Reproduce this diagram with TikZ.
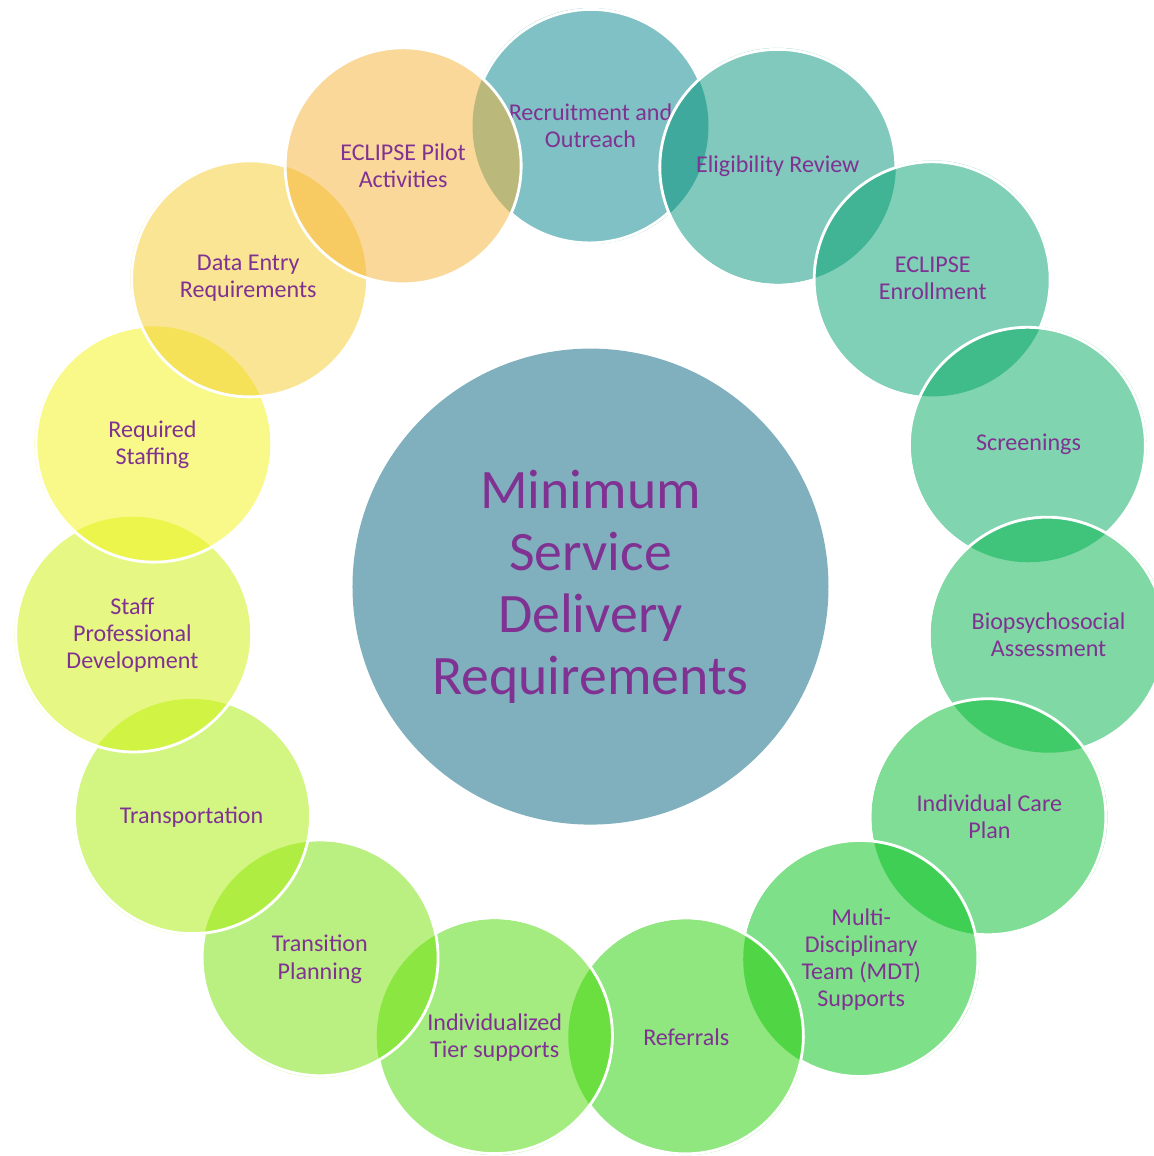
\documentclass[tikz,border=0pt]{standalone}
\usepackage{fontspec}
\setmainfont{Carlito}
\usepackage{tikz}

\definecolor{txt}{RGB}{128,50,146}
\definecolor{hub}{RGB}{128,176,190}
\definecolor{c1}{RGB}{0,131,137}
\definecolor{c2}{RGB}{1,147,121}
\definecolor{c3}{RGB}{1,159,111}
\definecolor{c4}{RGB}{1,169,95}
\definecolor{c5}{RGB}{1,179,73}
\definecolor{c6}{RGB}{1,187,45}
\definecolor{c7}{RGB}{0,193,21}
\definecolor{c8}{RGB}{33,205,0}
\definecolor{c9}{RGB}{73,217,0}
\definecolor{c10}{RGB}{117,225,3}
\definecolor{c11}{RGB}{167,235,5}
\definecolor{c12}{RGB}{205,241,7}
\definecolor{c13}{RGB}{243,243,21}
\definecolor{c14}{RGB}{243,203,41}
\definecolor{c15}{RGB}{245,177,51}

\begin{document}
\begin{tikzpicture}
      \tikzstyle{every node}=[shape=circle,minimum size=4.72cm,inner sep=0pt,outer sep=0pt,align=center,text=txt,font=\fontsize{13.7}{15.4}\selectfont,fill opacity=0.5,text opacity=1]
      \tikzstyle{rim}=[draw=white,line width=1.6pt]

      \useasboundingbox (-11.81,-11.388) rectangle (11.25,11.732);

      \node[fill=hub,fill opacity=1,minimum size=9.52cm,font=\fontsize{31.7}{35.3}\selectfont] (hub) at (0,0) {Minimum\\Service\\Delivery\\Requirements};

      \node[fill=c1] (n1) at (90:9.212) {Recruitment and\\Outreach};
      \draw[rim] (n1.23.75) arc[start angle=23.75,end angle=156.25,radius=2.36cm];
      \draw[rim] (n1.227.75) arc[start angle=227.75,end angle=312.25,radius=2.36cm];

      \node[fill=c2] (n2) at (66:9.212) {Eligibility Review};
      \draw[rim] (n2.359.75) arc[start angle=359.75,delta angle=288.5,radius=2.36cm];

      \node[fill=c3] (n3) at (42:9.212) {ECLIPSE\\Enrollment};
      \draw[rim] (n3.335.75) arc[start angle=335.75,delta angle=288.5,radius=2.36cm];

      \node[fill=c4] (n4) at (18:9.212) {Screenings};
      \draw[rim] (n4.311.75) arc[start angle=311.75,delta angle=288.5,radius=2.36cm];

      \node[fill=c5] (n5) at (-6:9.212) {Biopsychosocial\\Assessment};
      \draw[rim] (n5.287.75) arc[start angle=287.75,delta angle=288.5,radius=2.36cm];

      \node[fill=c6] (n6) at (-30:9.212) {Individual Care\\Plan};
      \draw[rim] (n6.263.75) arc[start angle=263.75,delta angle=288.5,radius=2.36cm];

      \node[fill=c7] (n7) at (-54:9.212) {Multi-\\Disciplinary\\Team (MDT)\\Supports};
      \draw[rim] (n7.239.75) arc[start angle=239.75,delta angle=288.5,radius=2.36cm];

      \node[fill=c8] (n8) at (-78:9.212) {Referrals};
      \draw[rim] (n8.215.75) arc[start angle=215.75,delta angle=288.5,radius=2.36cm];

      \node[fill=c9] (n9) at (-102:9.212) {Individualized\\Tier supports};
      \draw[rim] (n9.191.75) arc[start angle=191.75,delta angle=288.5,radius=2.36cm];

      \node[fill=c10] (n10) at (-126:9.212) {Transition\\Planning};
      \draw[rim] (n10.167.75) arc[start angle=167.75,delta angle=288.5,radius=2.36cm];

      \node[fill=c11] (n11) at (-150:9.212) {Transportation};
      \draw[rim] (n11.143.75) arc[start angle=143.75,delta angle=288.5,radius=2.36cm];

      \node[fill=c12] (n12) at (-174:9.212) {Staff\\Professional\\Development};
      \draw[rim] (n12.119.75) arc[start angle=119.75,delta angle=288.5,radius=2.36cm];

      \node[fill=c13] (n13) at (-198:9.212) {Required\\Staffing};
      \draw[rim] (n13.95.75) arc[start angle=95.75,delta angle=288.5,radius=2.36cm];

      \node[fill=c14] (n14) at (-222:9.212) {Data Entry\\Requirements};
      \draw[rim] (n14.71.75) arc[start angle=71.75,delta angle=288.5,radius=2.36cm];

      \node[fill=c15,rim] (n15) at (-246:9.212) {ECLIPSE Pilot\\Activities};

\end{tikzpicture}
\end{document}
